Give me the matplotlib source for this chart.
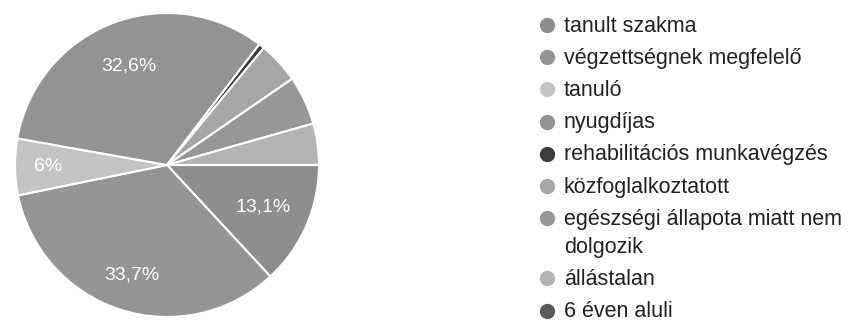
import numpy as np
import matplotlib
matplotlib.use("Agg")
import matplotlib.pyplot as plt

plt.rcParams['font.family'] = ['Liberation Sans', 'DejaVu Sans']

categories = [
    "tanult szakma",
    "végzettségnek megfelelő",
    "tanuló",
    "nyugdíjas",
    "rehabilitációs munkavégzés",
    "közfoglalkoztatott",
    "egészségi állapota miatt nem\ndolgozik",
    "állástalan",
    "6 éven aluli",
]
shares = [13.1, 33.7, 6.0, 32.6, 0.6, 4.4, 5.2, 4.4, 0.0]
slice_labels = ["13,1%", "33,7%", "6%", "32,6%", "", "", "", "", ""]

# grey tones (the chart was printed in black and white)
colors = ["#8e8e8e", "#959595", "#c4c4c4", "#939393", "#3c3c3c",
          "#a6a6a6", "#979797", "#b3b3b3", "#5a5a5a"]
label_r = [0.69, 0.76, 0.78, 0.70, 0, 0, 0, 0, 0]

W, H = 853, 323
fig = plt.figure(figsize=(W / 100, H / 100), dpi=100)
fig.patch.set_facecolor("white")

# pie
cx, cy, r = 167, 165, 152
ax = fig.add_axes([(cx - r) / W, (H - cy - r) / H, 2 * r / W, 2 * r / H])
wedges, _ = ax.pie(shares, colors=colors, startangle=0, counterclock=False,
                   wedgeprops=dict(edgecolor="white", linewidth=1.5))
ax.set_xlim(-1, 1)
ax.set_ylim(-1, 1)
ax.set_aspect("equal")
ax.axis("off")

for w, txt, d in zip(wedges, slice_labels, label_r):
    if not txt:
        continue
    mid = np.deg2rad((w.theta1 + w.theta2) / 2)
    ax.text(d * np.cos(mid), d * np.sin(mid), txt, color="white",
            fontsize=14, ha="center", va="center")

# legend, laid out in pixel coordinates
lax = fig.add_axes([0, 0, 1, 1], zorder=-1)
lax.set_xlim(0, W)
lax.set_ylim(H, 0)
lax.axis("off")

row_gap, line_gap = 32.2, 28
baseline = 31.5
for name, c in zip(categories, colors):
    lax.plot(547, baseline - 6.5, marker="o", markersize=10,
             color=c, linestyle="none")
    for k, line in enumerate(name.split("\n")):
        lax.text(564, baseline + k * line_gap, line, fontsize=15.5,
                 color="#222222", ha="left", va="baseline")
    baseline += row_gap + line_gap * name.count("\n")

fig.savefig("out.png", dpi=100, facecolor="white")
